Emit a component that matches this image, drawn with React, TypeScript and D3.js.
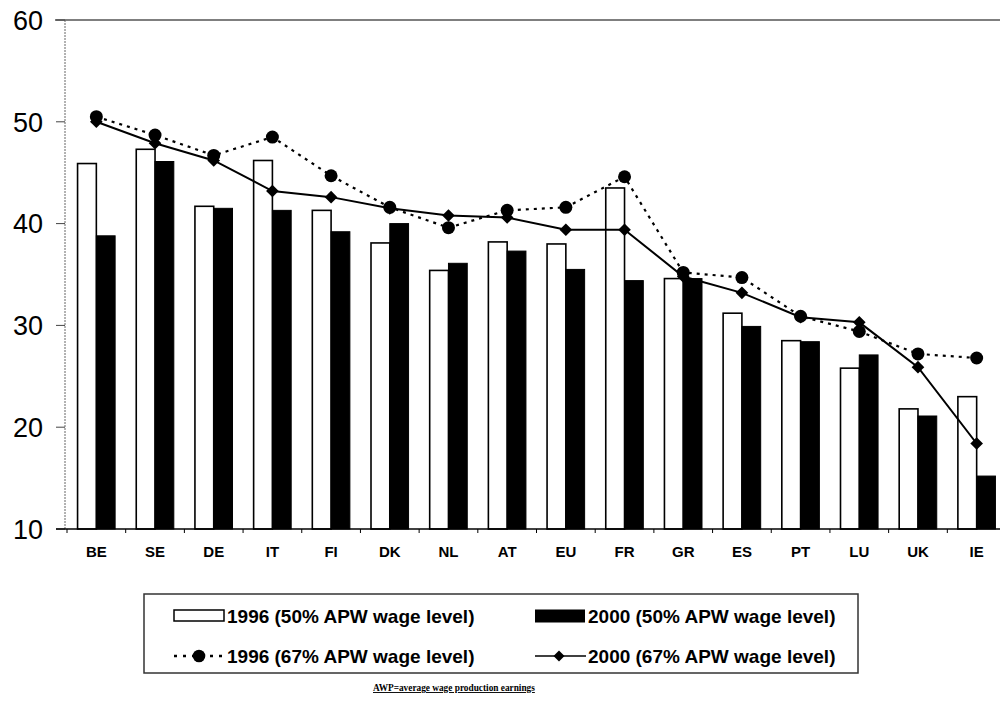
import React from "react";
import * as d3 from "d3";

const categories = ["BE", "SE", "DE", "IT", "FI", "DK", "NL", "AT", "EU", "FR", "GR", "ES", "PT", "LU", "UK", "IE"];
const bars1996_50 = [45.9, 47.3, 41.7, 46.2, 41.3, 38.1, 35.4, 38.2, 38.0, 43.5, 34.6, 31.2, 28.5, 25.8, 21.8, 23.0];
const bars2000_50 = [38.8, 46.1, 41.5, 41.3, 39.2, 40.0, 36.1, 37.3, 35.5, 34.4, 34.6, 29.9, 28.4, 27.1, 21.1, 15.2];
const line1996_67 = [50.5, 48.7, 46.7, 48.5, 44.7, 41.6, 39.6, 41.3, 41.6, 44.6, 35.2, 34.7, 30.9, 29.4, 27.2, 26.8];
const line2000_67 = [50.0, 47.9, 46.2, 43.2, 42.6, 41.5, 40.8, 40.6, 39.4, 39.4, 34.8, 33.2, 30.8, 30.3, 25.9, 18.4];
const yTicks = [10, 20, 30, 40, 50, 60];
const legendLabels = [
  "1996 (50% APW wage level)",
  "2000 (50% APW wage level)",
  "1996 (67% APW wage level)",
  "2000 (67% APW wage level)",
];
const footnote = "AWP=average wage production earnings";

const W = 1000;
const H = 704;

export default function App() {
  const x = d3.scaleBand<string>().domain(categories).range([67, 1006]).padding(0);
  const y = d3.scaleLinear().domain([10, 60]).range([529, 20]);
  const bw = x.bandwidth();
  const sub = d3.scaleBand<string>().domain(["a", "b"]).range([bw * 0.18, bw * 0.82]).padding(0);
  const cx = (c: string) => (x(c) as number) + bw / 2;

  const line = d3
    .line<number>()
    .x((_, i) => cx(categories[i]))
    .y((d) => y(d));

  const diamond = d3.symbol().type(d3.symbolSquare).size(80)();
  const font = "Arial, 'Liberation Sans', Helvetica, sans-serif";

  return (
    <svg width={W} height={H} style={{ position: "absolute", left: 0, top: 0, background: "#fff" }}>
      <rect x={0} y={0} width={W} height={H} fill="#fff" />
      {/* top border */}
      <line x1={55} x2={1000} y1={y(60)} y2={y(60)} stroke="#555" strokeWidth={1.5} />
      {/* y axis */}
      <line x1={65} x2={65} y1={y(60)} y2={y(10)} stroke="#666" strokeWidth={1} strokeDasharray="2,1" />
      {yTicks.map((t) => (
        <g key={t}>
          <line x1={56} x2={65} y1={y(t)} y2={y(t)} stroke="#444" strokeWidth={1} />
          <text x={43} y={y(t)} dy="0.36em" textAnchor="end" fontFamily={font} fontSize={27} fill="#000">
            {t}
          </text>
        </g>
      ))}
      {/* bars */}
      {categories.map((c, i) => (
        <g key={c}>
          <rect
            x={(x(c) as number) + (sub("a") as number)}
            y={y(bars1996_50[i])}
            width={sub.bandwidth()}
            height={y(10) - y(bars1996_50[i])}
            fill="#fff"
            stroke="#000"
            strokeWidth={1.6}
          />
          <rect
            x={(x(c) as number) + (sub("b") as number)}
            y={y(bars2000_50[i])}
            width={sub.bandwidth()}
            height={y(10) - y(bars2000_50[i])}
            fill="#000"
            stroke="#000"
            strokeWidth={1}
          />
        </g>
      ))}
      {/* x axis */}
      <line x1={56} x2={1000} y1={y(10)} y2={y(10)} stroke="#000" strokeWidth={1.5} />
      {categories.map((c) => (
        <line key={"t" + c} x1={x(c) as number} x2={x(c) as number} y1={y(10)} y2={y(10) + 4} stroke="#000" strokeWidth={1} />
      ))}
      {categories.map((c) => (
        <text key={"l" + c} x={cx(c)} y={557} textAnchor="middle" fontFamily={font} fontSize={15} fontWeight="bold" fill="#000">
          {c}
        </text>
      ))}
      {/* lines */}
      <path d={line(line1996_67) || ""} fill="none" stroke="#000" strokeWidth={2.2} strokeDasharray="3,5" />
      <path d={line(line2000_67) || ""} fill="none" stroke="#000" strokeWidth={2} />
      {categories.map((c, i) => (
        <circle key={"c" + c} cx={cx(c)} cy={y(line1996_67[i])} r={6.5} fill="#000" />
      ))}
      {categories.map((c, i) => (
        <path key={"d" + c} d={diamond || ""} transform={`translate(${cx(c)},${y(line2000_67[i])}) rotate(45)`} fill="#000" />
      ))}
      {/* legend */}
      <rect x={144} y={594} width={714} height={79} fill="none" stroke="#333" strokeWidth={1.5} />
      <rect x={174} y={610} width={50} height={11} fill="#fff" stroke="#000" strokeWidth={1.5} />
      <text x={227} y={622.5} fontFamily={font} fontSize={19} fontWeight="bold" fill="#000">
        {legendLabels[0]}
      </text>
      <rect x={535} y={609.5} width={50} height={13} fill="#000" />
      <text x={588} y={622.5} fontFamily={font} fontSize={19} fontWeight="bold" fill="#000">
        {legendLabels[1]}
      </text>
      <line x1={174} x2={222} y1={656} y2={656} stroke="#000" strokeWidth={2.4} strokeDasharray="3,6" />
      <circle cx={199} cy={656} r={6.3} fill="#000" />
      <text x={227} y={662.5} fontFamily={font} fontSize={19} fontWeight="bold" fill="#000">
        {legendLabels[2]}
      </text>
      <line x1={535} x2={586} y1={656} y2={656} stroke="#000" strokeWidth={1.5} />
      <path d={d3.symbol().type(d3.symbolSquare).size(60)() || ""} transform="translate(559,656) rotate(45)" fill="#000" />
      <text x={588} y={662.5} fontFamily={font} fontSize={19} fontWeight="bold" fill="#000">
        {legendLabels[3]}
      </text>
      {/* footnote */}
      <text x={373} y={691} fontFamily="'Liberation Serif', 'Times New Roman', serif" fontSize={9.3} fontWeight="bold" textDecoration="underline" fill="#000">
        {footnote}
      </text>
    </svg>
  );
}
